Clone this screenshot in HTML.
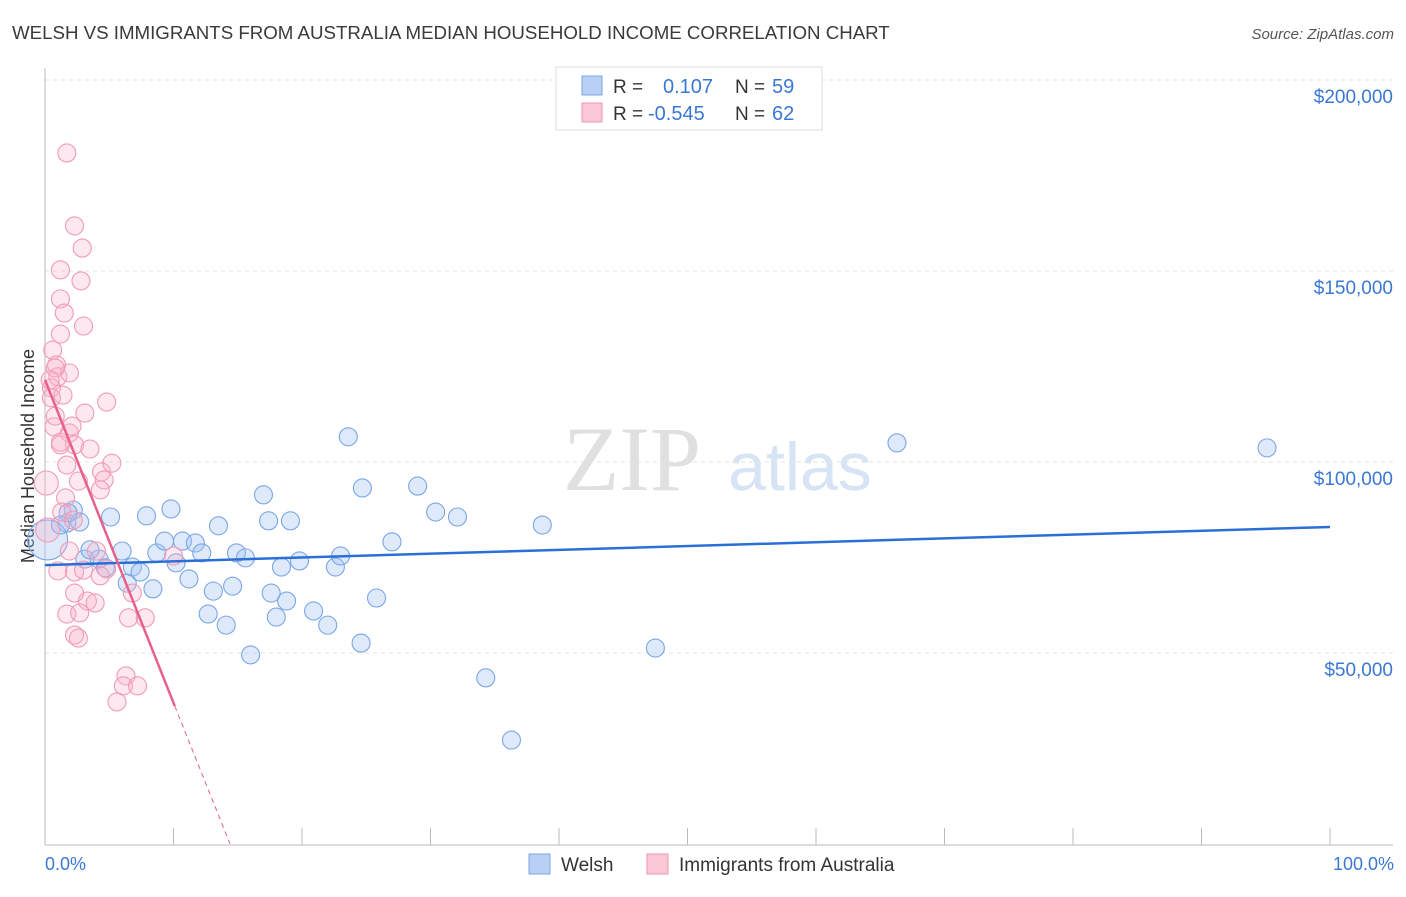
<!DOCTYPE html>
<html><head><meta charset="utf-8"><style>
body{margin:0;background:#fff;font-family:"Liberation Sans",sans-serif;}
svg text{font-family:"Liberation Sans",sans-serif;}
</style></head><body>
<svg id="chart" width="1406" height="892">
<text x="12" y="39" font-size="18.7" fill="#3a3a3a">WELSH VS IMMIGRANTS FROM AUSTRALIA MEDIAN HOUSEHOLD INCOME CORRELATION CHART</text>
<text x="1394" y="39" font-size="15" fill="#555" font-style="italic" text-anchor="end">Source: ZipAtlas.com</text>
<text x="0" y="0" transform="translate(34,456) rotate(-90)" font-size="18" fill="#333" text-anchor="middle">Median Household Income</text>
<g><text x="632" y="490" font-size="92" fill="#e0e0e0" font-family="Liberation Serif" text-anchor="middle" style="font-family:'Liberation Serif',serif">ZIP</text><text x="800" y="490" font-size="68" fill="#d6e4f5" text-anchor="middle">atlas</text></g>
<g id="grid"></g><g id="axes"></g><g id="pts"></g><g id="trend"></g>
<g>
<rect x="556" y="67" width="266" height="63" fill="#fff" stroke="#ddd"/>
<rect x="582" y="76" width="20" height="19" fill="#b8d0f3" stroke="#7aa6e6"/>
<rect x="582" y="103" width="20" height="19" fill="#fbc8d6" stroke="#f093b0"/>
<text x="613" y="93" font-size="19" fill="#333">R = </text><text x="663" y="93" font-size="20" fill="#3a78d4">0.107</text>
<text x="735" y="93" font-size="19" fill="#333">N = </text><text x="772" y="93" font-size="20" fill="#3a78d4">59</text>
<text x="613" y="120" font-size="19" fill="#333">R = </text><text x="648" y="120" font-size="20" fill="#3a78d4">-0.545</text>
<text x="735" y="120" font-size="19" fill="#333">N = </text><text x="772" y="120" font-size="20" fill="#3a78d4">62</text>
</g>
<g>
<rect x="529" y="854" width="21" height="20" fill="#b8d0f3" stroke="#7aa6e6"/>
<text x="561" y="871" font-size="19" fill="#333">Welsh</text>
<rect x="647" y="854" width="21" height="20" fill="#fbc8d6" stroke="#f093b0"/>
<text x="679" y="871" font-size="19" fill="#333">Immigrants from Australia</text>
</g>
<text x="45" y="870" font-size="18" fill="#3a78d4">0.0%</text>
<text x="1394" y="870" font-size="18" fill="#3a78d4" text-anchor="end">100.0%</text>
</svg>
<script>
const yTicks=[50000,100000,150000,200000];
const yTickLabels=["$50,000","$100,000","$150,000","$200,000"];
const welshX=[1.7,2.2,2.7,3.1,4.2,4.7,5.1,6.0,6.4,6.8,7.4,7.9,8.4,8.7,9.3,9.8,10.2,10.7,11.2,11.7,12.2,12.7,13.1,13.5,14.1,14.6,14.9,15.6,16.0,17.0,17.4,17.6,18.0,18.4,18.8,19.1,19.8,20.9,22.0,22.6,23.0,23.6,24.6,24.7,25.8,27.0,29.0,30.4,32.1,34.3,36.3,38.7,47.5,66.3,95.1,0.2,1.8,1.2,3.5];
const welshY=[84.0,87.4,84.3,74.6,74.6,72.3,85.6,76.7,68.3,72.5,71.2,85.9,66.8,76.2,79.3,87.7,73.6,79.3,69.4,78.8,76.2,60.2,66.2,83.3,57.3,67.5,76.2,74.9,49.5,91.4,84.6,65.7,59.4,72.5,63.6,84.6,74.1,61.0,57.3,72.5,75.4,106.6,52.6,93.2,64.4,79.1,93.7,86.9,85.6,43.5,27.2,83.5,51.3,105.0,103.7,79.6,86.7,83.5,77.0];
const ausX=[1.7,2.3,2.9,2.8,1.2,1.2,1.5,3.0,1.2,0.6,0.9,1.0,1.9,0.5,0.5,4.8,3.1,0.7,1.9,1.2,2.3,3.5,1.7,4.4,2.6,5.2,1.6,4.6,4.3,0.1,0.2,1.3,2.2,4.0,1.9,1.0,2.3,3.0,4.8,10.0,4.3,3.3,3.9,2.3,1.7,2.7,6.5,7.8,2.3,2.6,6.8,6.3,6.1,7.2,5.6,0.8,0.4,1.2,0.8,2.1,1.4];
const ausY=[180.9,161.8,156.0,147.4,150.3,142.7,139.0,135.6,133.5,129.3,125.4,122.3,123.3,119.4,116.8,115.7,112.8,109.2,107.6,104.5,104.5,103.4,99.2,97.4,95.0,99.7,90.6,95.3,92.7,94.5,82.2,86.9,84.8,76.7,76.7,71.5,71.2,71.7,72.0,75.4,70.2,63.6,63.1,65.7,60.2,60.5,59.2,59.2,54.7,53.9,65.7,44.0,41.4,41.4,37.2,124.6,121.5,105.2,112.0,109.4,117.5];
const welshTrend=[73.0,83.0];
const ausTrend=[121.5,36.1,0];
const ausTrendX=[0,10.1,14.4];
const NS="http://www.w3.org/2000/svg";
const sx=p=>45+p*12.85;
const sy=v=>844-v*191/50000;
function mk(tag,attrs,parent){const e=document.createElementNS(NS,tag);for(const k in attrs)e.setAttribute(k,attrs[k]);document.getElementById(parent).appendChild(e);return e;}
yTicks.forEach((t,i)=>{
 const l=mk('line',{x1:45,x2:1393,y1:sy(t),y2:sy(t),stroke:'#e2e2e2','stroke-dasharray':'4,4'},'grid');
 
 
 const tx=mk('text',{x:1393,y:sy(t)+23,'font-size':19,fill:'#3a78d4','text-anchor':'end'},'grid');
 tx.textContent=yTickLabels[i];
 
 
});
const ax=mk('line',{x1:45,x2:45,y1:68,y2:845,stroke:'#bbb'},'axes');


const bx=mk('line',{x1:45,x2:1393,y1:845,y2:845,stroke:'#bbb'},'axes');


for(let i=1;i<=10;i++){const t=mk('line',{x1:sx(i*10),x2:sx(i*10),y1:828,y2:845,stroke:'#bbb'},'axes');
 
 }
welshX.forEach((x,i)=>{const big=i===55;
 const c=mk('circle',{cx:sx(x),cy:sy(welshY[i]*1000),r:big?20:9,fill:'rgba(160,195,242,0.35)',stroke:'#7aa6e6','stroke-width':1.1},'pts');
 
 });
ausX.forEach((x,i)=>{const big=i===29||i===30;
 const c=mk('circle',{cx:sx(x),cy:sy(ausY[i]*1000),r:big?12:9,fill:'rgba(249,180,202,0.3)',stroke:'#f29ab6','stroke-width':1.1},'pts');
 
 });
const wl=mk('line',{x1:sx(0),y1:sy(welshTrend[0]*1000),x2:sx(100),y2:sy(welshTrend[1]*1000),stroke:'#2a6fd6','stroke-width':2.5},'trend');


const al=mk('line',{x1:sx(ausTrendX[0]),y1:sy(ausTrend[0]*1000),x2:sx(ausTrendX[1]),y2:sy(ausTrend[1]*1000),stroke:'#e8608a','stroke-width':2.5},'trend');


const ad=mk('line',{x1:sx(ausTrendX[1]),y1:sy(ausTrend[1]*1000),x2:sx(ausTrendX[2]),y2:sy(ausTrend[2]*1000),stroke:'#e8608a','stroke-width':1,'stroke-dasharray':'5,4'},'trend');


</script>
</body></html>
